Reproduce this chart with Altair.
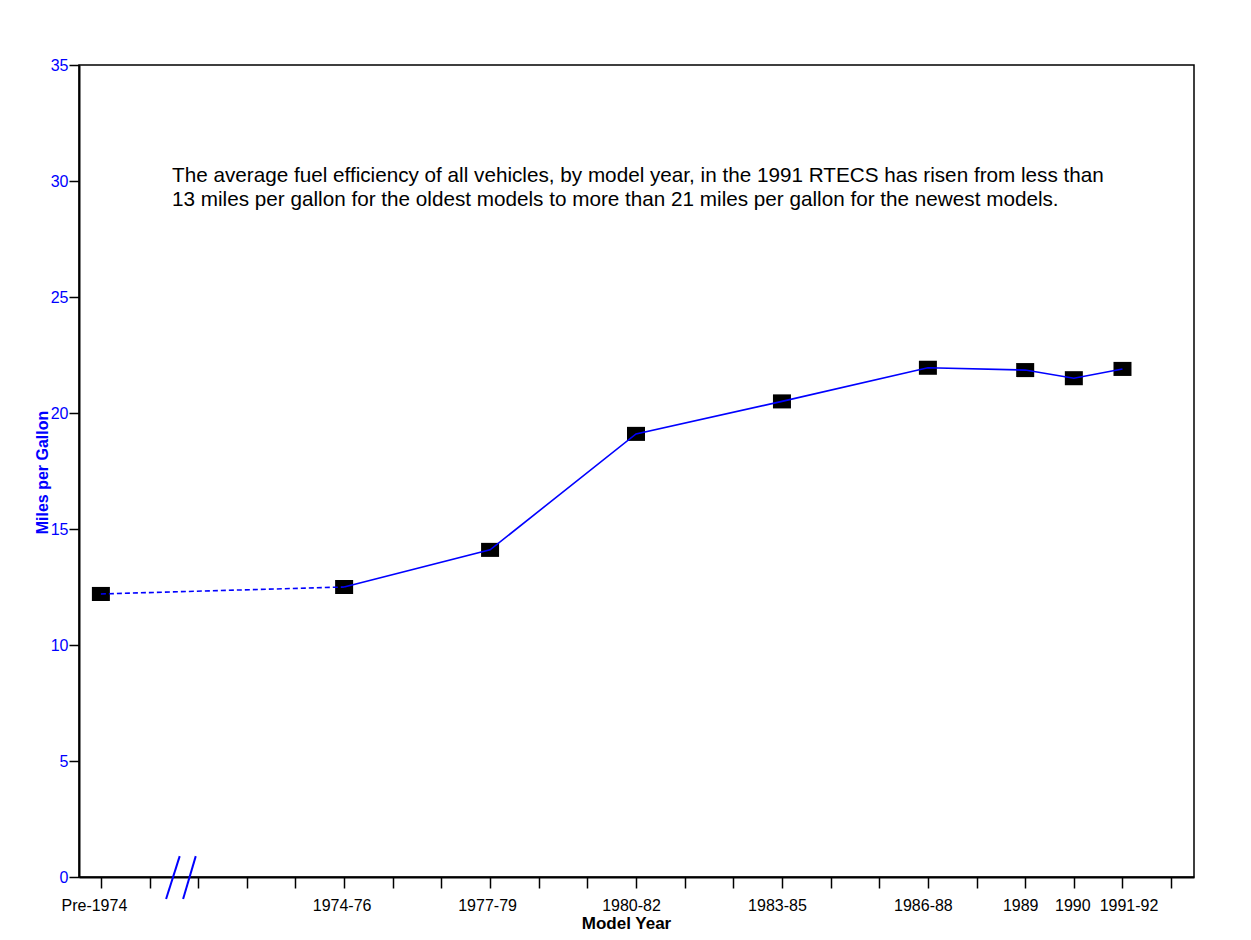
import altair as alt
import pandas as pd

# ---- data ----
categories = ["Pre-1974", "1974-76", "1977-79", "1980-82", "1983-85",
              "1986-88", "1989", "1990", "1991-92"]
slots = [0, 5, 8, 11, 14, 17, 19, 20, 21]          # position of each category on the broken axis
mpg = [12.2, 12.5, 14.1, 19.1, 20.5, 21.95, 21.85, 21.5, 21.9]
label_shift = [-7, -2.5, -3, -5, -5, -5, -5, -1.5, 6]   # small horizontal label offsets seen in the original
y_ticks = [0, 5, 10, 15, 20, 25, 30, 35]
x_ticks = list(range(23))
note_lines = [
    "The average fuel efficiency of all vehicles, by model year, in the 1991 RTECS has risen from less than",
    "13 miles per gallon for the oldest models to more than 21 miles per gallon for the newest models.",
]
# axis-break slashes (between the first two tick slots)
break_x_top = [1.62, 1.95]
break_x_bottom = [1.34, 1.69]
break_y_top = [0.9, 0.9]
break_y_bottom = [-0.95, -0.95]

BLUE = "#0000FF"
FONT = "Liberation Sans"

df = pd.DataFrame({"category": categories, "slot": slots, "mpg": mpg})
df_dashed = df.iloc[:2]
df_solid = df.iloc[1:]
df_break = pd.DataFrame({"x": break_x_top, "x2": break_x_bottom,
                         "y": break_y_top, "y2": break_y_bottom})
df_note = pd.DataFrame({"note": [note_lines]})

label_expr = "''"
for s, c in reversed(list(zip(slots, categories))):
    label_expr = f"datum.value == {s} ? '{c}' : ({label_expr})"

label_offset = {
    "condition": [{"test": f"datum.value == {s}", "value": o}
                  for s, o in zip(slots, label_shift)],
    "value": 0,
}

xscale = alt.Scale(domain=[-0.45, 22.47], nice=False, zero=False)
yscale = alt.Scale(domain=[0, 35], nice=False)

x_axis = alt.Axis(values=x_ticks, labelExpr=label_expr, grid=False,
                  tickSize=11, tickColor="black", tickWidth=1.5,
                  domainColor="black", domainWidth=2,
                  labelFont=FONT, labelFontSize=16, labelColor="black",
                  labelPadding=9, labelOverlap=False, labelFlush=False,
                  labelOffset=label_offset,
                  title="Model Year", titleFont=FONT, titleFontSize=17,
                  titleFontWeight="bold", titleColor="black",
                  titleX=547, titleY=51, titleAlign="center",
                  titleBaseline="alphabetic")
y_axis = alt.Axis(values=y_ticks, grid=False, tickSize=10, tickColor="black",
                  tickWidth=1.5, domainColor="black", domainWidth=2,
                  labelFont=FONT, labelFontSize=16, labelColor=BLUE,
                  labelPadding=1,
                  title="Miles per Gallon", titleFont=FONT, titleFontSize=16,
                  titleFontWeight="bold", titleColor=BLUE,
                  titleX=-37, titleY=407, titleAlign="center",
                  titleBaseline="middle")

base = alt.Chart(df)

markers = base.mark_point(
    shape="M-1,-0.78L1,-0.78L1,0.78L-1,0.78Z", size=324,
    filled=True, color="black", opacity=1, strokeWidth=0
).encode(
    x=alt.X("slot:Q", scale=xscale, axis=x_axis),
    y=alt.Y("mpg:Q", scale=yscale, axis=y_axis),
)

line_dashed = alt.Chart(df_dashed).mark_line(
    color=BLUE, strokeWidth=1.6, strokeDash=[5, 3]
).encode(x=alt.X("slot:Q", scale=xscale), y=alt.Y("mpg:Q", scale=yscale))

line_solid = alt.Chart(df_solid).mark_line(
    color=BLUE, strokeWidth=1.6
).encode(x=alt.X("slot:Q", scale=xscale), y=alt.Y("mpg:Q", scale=yscale))

breaks = alt.Chart(df_break).mark_rule(color=BLUE, strokeWidth=2).encode(
    x=alt.X("x:Q", scale=xscale), x2="x2:Q",
    y=alt.Y("y:Q", scale=yscale), y2="y2:Q",
)

note = alt.Chart(df_note).mark_text(
    align="left", baseline="alphabetic", font=FONT, fontSize=20.7,
    lineHeight=24, color="black"
).encode(text="note:N", x=alt.value(93), y=alt.value(117))

chart = alt.layer(
    markers, line_dashed, line_solid, breaks, note
).properties(
    width=1115, height=812,
    autosize=alt.AutoSizeParams(type="none"),
    padding={"left": 71, "top": 57, "right": 48, "bottom": 55},
    background="white",
).configure_view(stroke="black", strokeWidth=1.5)

chart.save("out.html", embed_options={"renderer": "svg", "actions": False})
